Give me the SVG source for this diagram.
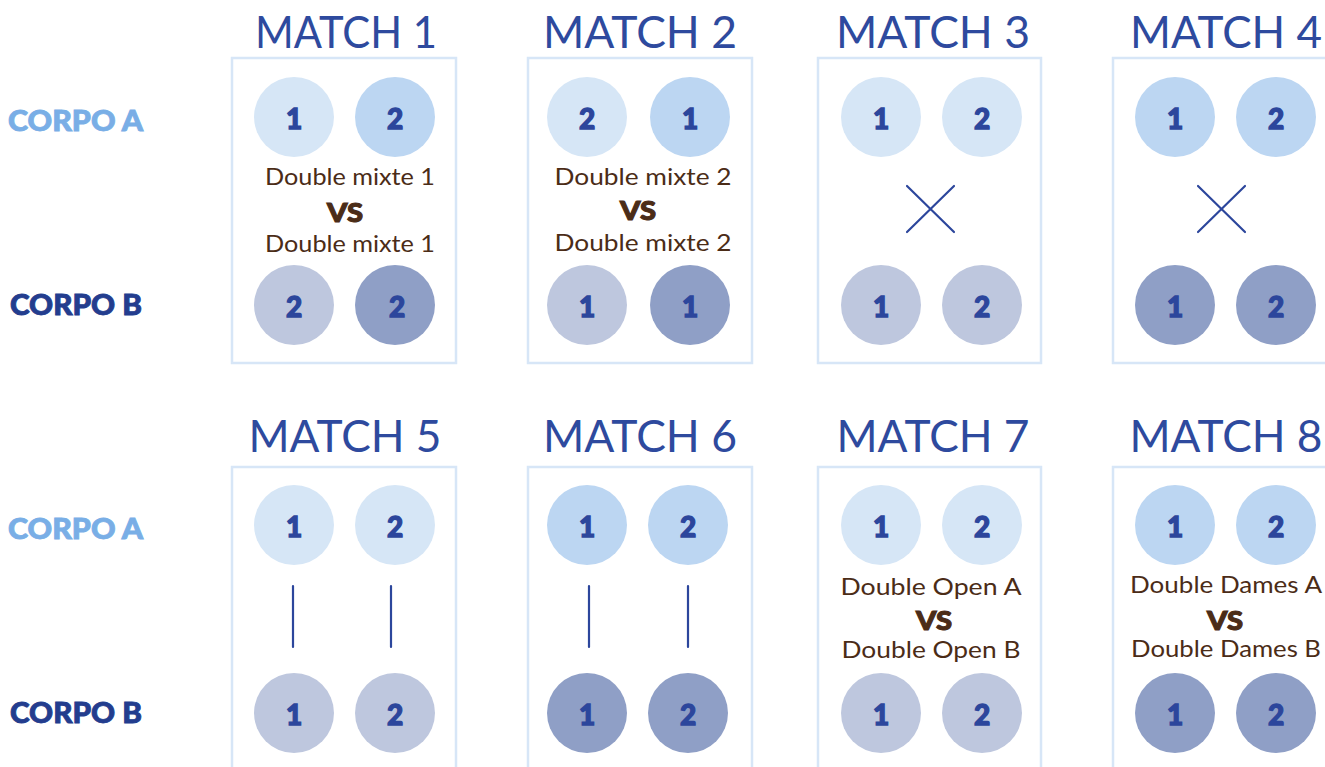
<svg xmlns="http://www.w3.org/2000/svg" width="1325" height="767" viewBox="0 0 1325 767">
<style>
.box{fill:#fff;stroke:#d7e6f7;stroke-width:2.5}
.title{font-family:"Lato","Liberation Sans",sans-serif;font-size:45px;fill:#2e4a9e;text-anchor:middle}
.side{font-family:"Lato","Liberation Sans",sans-serif;font-weight:900;font-size:29px;stroke-width:0.9}
.ca{fill:#79aee6;stroke:#79aee6}
.cb{fill:#233d8e;stroke:#233d8e}
.num{font-family:"Lato","Liberation Sans",sans-serif;font-weight:900;font-size:28px;fill:#2c469c;stroke:#2c469c;stroke-width:1.3;text-anchor:middle}
.lbl{font-family:"Lato","Liberation Sans",sans-serif;font-size:24px;fill:#4b2c17;text-anchor:middle}
.vs{font-family:"Lato","Liberation Sans",sans-serif;font-weight:900;font-size:27px;fill:#4b2c17;stroke:#4b2c17;stroke-width:1.1;text-anchor:middle}
.al{fill:#d6e6f6}
.am{fill:#bcd6f2}
.bl{fill:#bec7de}
.bd{fill:#8f9fc6}
.ln{stroke:#2c469c;stroke-width:2.2;stroke-linecap:round;fill:none}
</style>
<rect width="1325" height="767" fill="#fff"/>
<g id="labels">
<text class="side ca" x="8" y="131" textLength="135" lengthAdjust="spacingAndGlyphs">CORPO A</text>
<text class="side cb" x="10" y="315" textLength="132" lengthAdjust="spacingAndGlyphs">CORPO B</text>
<text class="side ca" x="8" y="539" textLength="135" lengthAdjust="spacingAndGlyphs">CORPO A</text>
<text class="side cb" x="10" y="723" textLength="132" lengthAdjust="spacingAndGlyphs">CORPO B</text>
</g>
<g id="match1">
<text class="title" x="346" y="48" textLength="182" lengthAdjust="spacingAndGlyphs">MATCH 1</text>
<rect class="box" x="232" y="58" width="224" height="305"/>
<circle class="al" cx="294" cy="117" r="40"/><text class="num" x="294" y="129">1</text>
<circle class="am" cx="395" cy="117" r="40"/><text class="num" x="395" y="129">2</text>
<text class="lbl" x="350" y="185" textLength="170" lengthAdjust="spacingAndGlyphs">Double mixte 1</text>
<text class="vs" x="345" y="222" textLength="36" lengthAdjust="spacingAndGlyphs">VS</text>
<text class="lbl" x="350" y="252" textLength="170" lengthAdjust="spacingAndGlyphs">Double mixte 1</text>
<circle class="bl" cx="294" cy="305" r="40"/><text class="num" x="294" y="317">2</text>
<circle class="bd" cx="395" cy="305" r="40"/><text class="num" x="397" y="317">2</text>
</g>
<g id="match2">
<text class="title" x="640" y="48" textLength="194" lengthAdjust="spacingAndGlyphs">MATCH 2</text>
<rect class="box" x="528" y="58" width="224" height="305"/>
<circle class="al" cx="587" cy="117" r="40"/><text class="num" x="587" y="129">2</text>
<circle class="am" cx="690" cy="117" r="40"/><text class="num" x="690" y="129">1</text>
<text class="lbl" x="643" y="185" textLength="177" lengthAdjust="spacingAndGlyphs">Double mixte 2</text>
<text class="vs" x="638" y="220" textLength="36" lengthAdjust="spacingAndGlyphs">VS</text>
<text class="lbl" x="643" y="251" textLength="177" lengthAdjust="spacingAndGlyphs">Double mixte 2</text>
<circle class="bl" cx="587" cy="305" r="40"/><text class="num" x="587" y="317">1</text>
<circle class="bd" cx="690" cy="305" r="40"/><text class="num" x="690" y="317">1</text>
</g>
<g id="match3">
<text class="title" x="933" y="48" textLength="194" lengthAdjust="spacingAndGlyphs">MATCH 3</text>
<rect class="box" x="818" y="58" width="223" height="305"/>
<circle class="al" cx="881" cy="117" r="40"/><text class="num" x="881" y="129">1</text>
<circle class="al" cx="982" cy="117" r="40"/><text class="num" x="982" y="129">2</text>
<path class="ln" d="M907 186L954 232M954 186L907 232"/>
<circle class="bl" cx="881" cy="305" r="40"/><text class="num" x="881" y="317">1</text>
<circle class="bl" cx="982" cy="305" r="40"/><text class="num" x="982" y="317">2</text>
</g>
<g id="match4">
<text class="title" x="1226" y="48" textLength="192" lengthAdjust="spacingAndGlyphs">MATCH 4</text>
<rect class="box" x="1113" y="58" width="224" height="305"/>
<circle class="am" cx="1175" cy="117" r="40"/><text class="num" x="1175" y="129">1</text>
<circle class="am" cx="1276" cy="117" r="40"/><text class="num" x="1276" y="129">2</text>
<path class="ln" d="M1198 186L1245 232M1245 186L1198 232"/>
<circle class="bd" cx="1175" cy="305" r="40"/><text class="num" x="1175" y="317">1</text>
<circle class="bd" cx="1276" cy="305" r="40"/><text class="num" x="1276" y="317">2</text>
</g>
<g id="match5">
<text class="title" x="345" y="452" textLength="193" lengthAdjust="spacingAndGlyphs">MATCH 5</text>
<rect class="box" x="232" y="467" width="224" height="320"/>
<circle class="al" cx="294" cy="525" r="40"/><text class="num" x="294" y="537">1</text>
<circle class="al" cx="395" cy="525" r="40"/><text class="num" x="395" y="537">2</text>
<circle class="bl" cx="294" cy="713" r="40"/><text class="num" x="294" y="725">1</text>
<circle class="bl" cx="395" cy="713" r="40"/><text class="num" x="395" y="725">2</text>
</g>
<g id="match6">
<text class="title" x="640" y="452" textLength="194" lengthAdjust="spacingAndGlyphs">MATCH 6</text>
<rect class="box" x="528" y="467" width="224" height="320"/>
<circle class="am" cx="587" cy="525" r="40"/><text class="num" x="587" y="537">1</text>
<circle class="am" cx="688" cy="525" r="40"/><text class="num" x="688" y="537">2</text>
<circle class="bd" cx="587" cy="713" r="40"/><text class="num" x="587" y="725">1</text>
<circle class="bd" cx="688" cy="713" r="40"/><text class="num" x="688" y="725">2</text>
</g>
<g id="match7">
<text class="title" x="933" y="452" textLength="193" lengthAdjust="spacingAndGlyphs">MATCH 7</text>
<rect class="box" x="818" y="467" width="223" height="320"/>
<circle class="al" cx="881" cy="525" r="40"/><text class="num" x="881" y="537">1</text>
<circle class="al" cx="982" cy="525" r="40"/><text class="num" x="982" y="537">2</text>
<text class="lbl" x="931" y="595" textLength="181" lengthAdjust="spacingAndGlyphs">Double Open A</text>
<text class="vs" x="934" y="630" textLength="36" lengthAdjust="spacingAndGlyphs">VS</text>
<text class="lbl" x="931" y="658" textLength="179" lengthAdjust="spacingAndGlyphs">Double Open B</text>
<circle class="bl" cx="881" cy="713" r="40"/><text class="num" x="881" y="725">1</text>
<circle class="bl" cx="982" cy="713" r="40"/><text class="num" x="982" y="725">2</text>
</g>
<g id="match8">
<text class="title" x="1226" y="452" textLength="193" lengthAdjust="spacingAndGlyphs">MATCH 8</text>
<rect class="box" x="1113" y="467" width="224" height="320"/>
<circle class="am" cx="1175" cy="525" r="40"/><text class="num" x="1175" y="537">1</text>
<circle class="am" cx="1276" cy="525" r="40"/><text class="num" x="1276" y="537">2</text>
<text class="lbl" x="1226" y="593" textLength="192" lengthAdjust="spacingAndGlyphs">Double Dames A</text>
<text class="vs" x="1225" y="630" textLength="36" lengthAdjust="spacingAndGlyphs">VS</text>
<text class="lbl" x="1226" y="657" textLength="190" lengthAdjust="spacingAndGlyphs">Double Dames B</text>
<circle class="bd" cx="1175" cy="713" r="40"/><text class="num" x="1175" y="725">1</text>
<circle class="bd" cx="1276" cy="713" r="40"/><text class="num" x="1276" y="725">2</text>
</g>
<g id="connectors">
<path class="ln" d="M293 586V647M391 586V647M589 586V647M688 586V647"/>
</g>
</svg>
